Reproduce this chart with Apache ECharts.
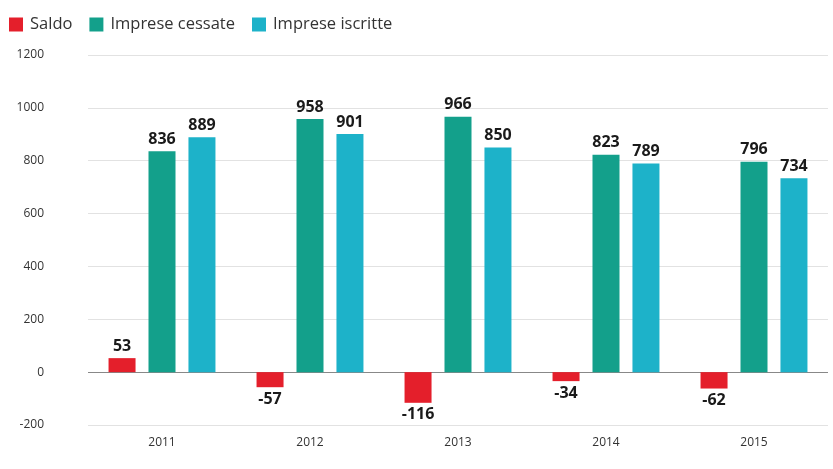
<!DOCTYPE html>
<html><head><meta charset="utf-8">
<script src="https://cdn.jsdelivr.net/npm/echarts@6/dist/echarts.min.js"></script>
<style>html,body{margin:0;padding:0;background:#fff}#c{width:833px;height:469px}</style>
</head><body><div id="c"></div>
<script>
const categories = ['2011','2012','2013','2014','2015'];
const saldo = [53, -57, -116, -34, -62];
const cessate = [836, 958, 966, 823, 796];
const iscritte = [889, 901, 850, 789, 734];
const yTicks = [-200, 0, 200, 400, 600, 800, 1000, 1200];

const chart = echarts.init(document.getElementById('c'));
const lbl = {show:true, color:'#1a1a1a', fontWeight:'bold', fontSize:16, fontFamily:'Open Sans', distance:4};
chart.setOption({
  animation:false,
  textStyle:{fontFamily:'Open Sans'},
  legend:{left:4, top:11, icon:'rect', itemWidth:14, itemHeight:14, itemGap:17,
    textStyle:{fontSize:16.5, color:'#333', padding:[0,0,0,2]}},
  grid:{left:88, right:5, top:55, bottom:44},
  xAxis:{type:'category', data:categories,
    axisLine:{show:false, onZero:false}, axisTick:{show:false},
    axisLabel:{color:'#333', fontSize:12, margin:12}},
  yAxis:{type:'value', min:yTicks[0], max:yTicks[yTicks.length-1], interval:200,
    axisLine:{show:false}, axisTick:{show:false},
    axisLabel:{color:'#333', fontSize:12, margin:44, formatter:function(v){return String(v);}},
    splitLine:{lineStyle:{color:['#e2e2e2','#888','#e2e2e2','#e2e2e2','#e2e2e2','#e2e2e2','#e2e2e2','#e2e2e2'], width:1}}},
  series:[
    {name:'Saldo', type:'bar', data:saldo, barWidth:27, barGap:'48%', itemStyle:{color:'#e41f2b'},
     label:Object.assign({}, lbl, {position:'outside'})},
    {name:'Imprese cessate', type:'bar', data:cessate, barWidth:27, barGap:'48%', itemStyle:{color:'#13a08b'},
     label:Object.assign({}, lbl, {position:'top'})},
    {name:'Imprese iscritte', type:'bar', data:iscritte, barWidth:27, barGap:'48%', itemStyle:{color:'#1db2c9'},
     label:Object.assign({}, lbl, {position:'top'})}
  ]
});
</script></body></html>
